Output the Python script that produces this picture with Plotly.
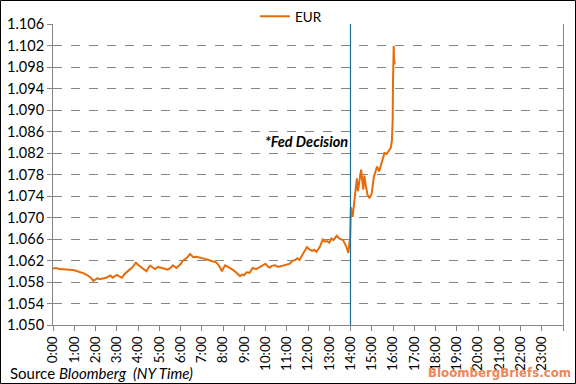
import plotly.graph_objects as go

times = ["0:00","0:09","0:18","0:30","0:39","0:48","1:00","1:09","1:16","1:27","1:36","1:45","1:54",
 "2:00","2:06","2:12","2:21","2:30","2:36","2:42","2:48","2:54","3:00","3:06","3:15","3:21","3:30",
 "3:36","3:42","3:48","3:54","4:00","4:06","4:12","4:18","4:24","4:30","4:34","4:42","4:48","4:57",
 "5:06","5:15","5:24","5:33","5:39","5:48","5:54","6:00","6:06","6:12","6:18","6:27","6:33","6:36",
 "6:45","6:54","7:03","7:15","7:24","7:30","7:36","7:42","7:51","7:57","8:03","8:06","8:12","8:18",
 "8:27","8:33","8:42","8:48","8:54","9:00","9:06","9:15","9:24","9:33","9:45","9:54","10:00","10:06",
 "10:12","10:18","10:27","10:36","10:42","10:51","11:00","11:09","11:15","11:24","11:30","11:36",
 "11:42","11:48","11:57","12:03","12:12","12:18","12:24","12:33","12:42","12:48","12:54","13:00",
 "13:06","13:12","13:21","13:30","13:39","13:48","13:54","13:59","14:01","14:06","14:12","14:18",
 "14:21","14:25","14:30","14:36","14:39","14:43","14:48","14:54","15:00","15:06","15:15","15:21",
 "15:30","15:36","15:42","15:51","15:54","15:57","15:59","16:00","16:02","16:03","16:05"]

eur = [1.0605,1.0606,1.0604,1.0604,1.0603,1.0603,1.0602,1.0600,1.0599,1.0596,1.0593,1.0589,1.0582,
 1.0584,1.0587,1.0585,1.0586,1.0588,1.0590,1.0592,1.0588,1.0591,1.0593,1.0591,1.0588,1.0594,1.0600,
 1.0603,1.0606,1.0611,1.0616,1.0612,1.0609,1.0607,1.0603,1.0600,1.0607,1.0610,1.0607,1.0604,1.0608,
 1.0606,1.0604,1.0603,1.0607,1.0611,1.0606,1.0609,1.0613,1.0619,1.0622,1.0625,1.0632,1.0627,1.0626,
 1.0627,1.0626,1.0624,1.0622,1.0620,1.0619,1.0617,1.0616,1.0608,1.0600,1.0608,1.0611,1.0609,1.0607,
 1.0603,1.0600,1.0594,1.0591,1.0594,1.0593,1.0598,1.0597,1.0606,1.0604,1.0608,1.0611,1.0614,1.0609,
 1.0607,1.0610,1.0611,1.0608,1.0609,1.0611,1.0612,1.0614,1.0619,1.0621,1.0624,1.0621,
 1.0628,1.0636,1.0645,1.0641,1.0638,1.0640,1.0636,1.0645,1.0659,1.0655,1.0656,1.0653,
 1.0661,1.0658,1.0666,1.0660,1.0658,1.0646,1.0634,1.0664,1.0719,1.0701,1.0743,1.0773,
 1.0749,1.0770,1.0789,1.0752,1.0778,1.0760,1.0742,1.0736,1.0745,1.0776,1.0795,1.0786,
 1.0808,1.0820,1.0818,1.0826,1.0830,1.0844,1.0880,1.0950,1.1019,1.0995,1.0985]

tick_hours = list(range(25))
tick_labels = [f"{h}:00" for h in range(24)] + [""]

def to_hours(t):
    h, m = t.split(":")
    return int(h) + int(m) / 60.0

x = [to_hours(t) for t in times]

FONT = "Lato, Calibri, sans-serif"
GRAY = "#868686"

fig = go.Figure()
fig.add_trace(go.Scatter(x=x, y=eur, mode="lines", name="EUR",
                         line=dict(color="#e46c0a", width=2)))

W, H = 576, 384
L, R, T, B = 53, 13, 24, 59
pw, ph = W - L - R, H - T - B

def px_to_paper_x(p):
    return (p - L) / pw

def px_to_paper_y(p):
    return (H - B - p) / ph

fig.update_layout(
    width=W, height=H,
    margin=dict(l=L, r=R, t=T, b=B, pad=0, autoexpand=False),
    paper_bgcolor="white", plot_bgcolor="white",
    font=dict(family=FONT, size=13, color="#000"),
    showlegend=True,
    legend=dict(orientation="h", x=px_to_paper_x(291), xanchor="center",
                y=px_to_paper_y(1), yanchor="top", font=dict(size=13.5),
                bgcolor="rgba(0,0,0,0)"),
    xaxis=dict(range=[0, 24], tickvals=tick_hours, ticktext=tick_labels,
               tickangle=-90, showgrid=False, zeroline=False, automargin=False,
               showline=True, linecolor=GRAY, linewidth=1,
               ticks="outside", ticklen=5, tickcolor=GRAY,
               tickfont=dict(size=13.5)),
    yaxis=dict(range=[1.050, 1.106], dtick=0.004, tick0=1.050, tickformat=".3f",
               showgrid=True, gridcolor=GRAY, griddash="dash", gridwidth=1,
               zeroline=False, showline=True, linecolor=GRAY, linewidth=1, automargin=False,
               mirror=True, ticks="outside", ticklen=5, tickcolor=GRAY,
               tickfont=dict(size=14.5)),
)

fig.add_shape(type="line", xref="x", yref="y", x0=14, x1=14, y0=1.050, y1=1.106,
              line=dict(color="#1f6e9c", width=1.2))

fig.add_shape(type="rect", xref="paper", yref="paper",
              x0=px_to_paper_x(0.5), x1=px_to_paper_x(W - 0.5),
              y0=px_to_paper_y(H - 0.5), y1=px_to_paper_y(0.5),
              line=dict(color="#000", width=1), fillcolor="rgba(0,0,0,0)", layer="below")

fig.add_annotation(x=14, y=1.0842, xref="x", yref="y", text="<b><i>*Fed Decision</i></b>",
                   showarrow=False, xanchor="right", xshift=-1, font=dict(size=14.5))

fig.add_annotation(x=px_to_paper_x(8), y=px_to_paper_y(373), xref="paper", yref="paper",
                   text="Source <i>Bloomberg&nbsp;&nbsp;(NY Time)</i>", showarrow=False,
                   xanchor="left", yanchor="middle", font=dict(size=15))

fig.add_annotation(x=px_to_paper_x(573), y=px_to_paper_y(373), xref="paper", yref="paper",
                   text="<b>BloombergBriefs.com</b>", showarrow=False,
                   xanchor="right", yanchor="middle",
                   font=dict(family="DejaVu Sans, Verdana, sans-serif", size=11.8, color="#f08656"))

fig.write_html("out.html", config={"displayModeBar": False},
               post_script="document.body.style.margin='0px';document.body.style.overflow='hidden';")
